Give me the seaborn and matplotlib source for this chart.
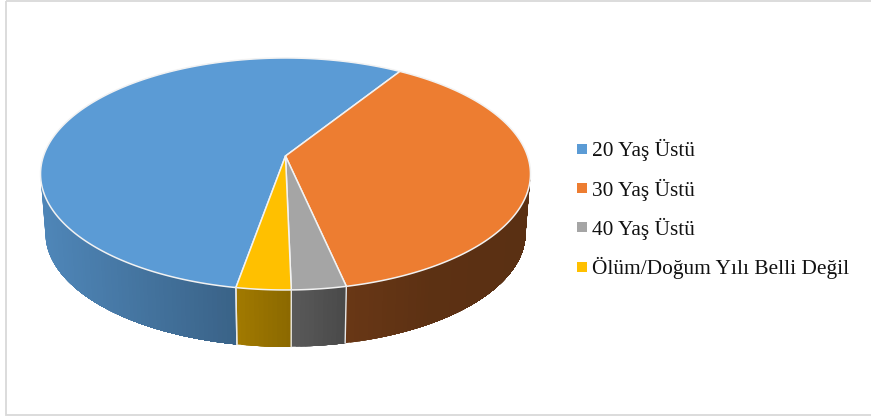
import numpy as np
import matplotlib
matplotlib.use('Agg')
import matplotlib.pyplot as plt
from matplotlib.lines import Line2D
from matplotlib.patches import Polygon
import seaborn as sns

labels = ['20 Yaş Üstü', '30 Yaş Üstü', '40 Yaş Üstü',
          'Ölüm/Doğum Yılı Belli Değil']
shares = [56.2, 37.6, 3.1, 3.1]
colors = ['#5b9bd5', '#ed7d31', '#a5a5a5', '#ffc000']
first_angle = 190.0

sns.set_theme(style='white')
plt.rcParams['font.family'] = ['Liberation Serif', 'DejaVu Serif']
palette = sns.color_palette(colors)

fig = plt.figure(figsize=(8.71, 4.16), dpi=100)
ax = fig.add_axes([0, 0, 1, 1])
ax.set_xlim(0, 871)
ax.set_ylim(416, 0)
ax.axis('off')

# outer chart frame, right side is cut off in the original
ax.add_patch(plt.Rectangle((5.5, 0.5), 880, 414.5, fill=False,
                           edgecolor='#d9d9d9', linewidth=1.3))

# perspective projection of a circle, angle clockwise from the top
tilt = 0.155


def project(angle, y_center, scale):
    rad = np.deg2rad(angle)
    u = np.sin(rad)
    v = -np.cos(rad)
    w = 1 - tilt * v
    return np.column_stack((285.5 + scale * 242 * u / w,
                            y_center + scale * 113.2 * v / w))


def top_rim(angle):
    return project(angle, 156, 1.0)


def bottom_rim(angle):
    return project(angle, 215.5, 0.98)


def side_shade(angle):
    x = top_rim(np.array([angle]))[0, 0]
    return np.interp(x, [45, 237, 291, 347, 430, 525],
                     [.86, .63, .54, .44, .39, .38])


edges = first_angle + np.concatenate(([0], np.cumsum(shares))) * 3.6
side_limit = np.rad2deg(np.arccos(-tilt))

# walls first, only the part facing the viewer. Every strip reaches to the
# end of its slice and the next one paints over it, so no seams show.
for i, color in enumerate(palette):
    for offset in (0, -360):
        lo = max(edges[i] + offset, side_limit)
        hi = min(edges[i + 1] + offset, 360 - side_limit)
        if lo >= hi:
            continue
        for a in np.linspace(hi, lo, int(hi - lo) + 2)[:-1]:
            strip = np.linspace(lo, a, 60)
            outline = np.vstack((top_rim(strip), bottom_rim(strip[::-1])))
            shaded = tuple(np.array(color) * side_shade(a))
            ax.add_patch(Polygon(outline, facecolor=shaded, edgecolor='none',
                                 linewidth=0))

for edge in edges:
    angle = edge % 360
    if side_limit < angle < 360 - side_limit:
        line = np.vstack((top_rim(np.array([angle])),
                          bottom_rim(np.array([angle]))))
        ax.plot(line[:, 0], line[:, 1], color='#e8e8e8', linewidth=1.0)

# top face
apex = [285.5, 156]
for i, color in enumerate(palette):
    arc = top_rim(np.linspace(edges[i], edges[i + 1], 300))
    ax.add_patch(Polygon(np.vstack((apex, arc)), facecolor=color,
                         edgecolor='#f2f2f2', linewidth=1.1,
                         joinstyle='round'))

handles = [Line2D([], [], linestyle='none', marker='s', markersize=6.8,
                  markeredgewidth=0, color=c) for c in palette]
ax.legend(handles, labels, loc='upper left',
          bbox_to_anchor=(576 / 871, 1 - 139 / 416),
          frameon=False, fontsize=15.4, labelspacing=0.81, handlelength=0.6,
          handletextpad=0.16, borderaxespad=0, borderpad=0,
          labelcolor='#111111')

fig.savefig('out.png', dpi=100)
